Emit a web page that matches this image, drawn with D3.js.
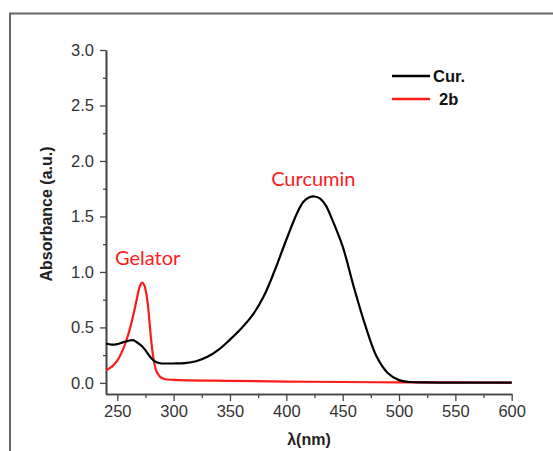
<!DOCTYPE html>
<html>
<head>
<meta charset="utf-8">
<script src="https://cdn.jsdelivr.net/npm/d3@7"></script>
<style>
  body { margin: 0; background: #fff; }
  svg { display: block; }
</style>
</head>
<body>
<div id="chart"></div>
<script>
// absorbance spectra
var curWl     = [240, 245, 250, 255, 260, 264, 268, 272, 276, 280, 284, 288, 295, 300, 310, 320, 330, 340, 350, 360, 370, 380, 390, 400, 410, 415, 420, 425, 430, 435, 440, 450, 460, 470, 480, 490, 500, 510, 520, 550, 600];
var curValues = [0.355, 0.345, 0.35, 0.365, 0.38, 0.385, 0.362, 0.33, 0.28, 0.225, 0.19, 0.177, 0.175, 0.175, 0.178, 0.195, 0.235, 0.3, 0.39, 0.49, 0.61, 0.78, 1.02, 1.29, 1.54, 1.63, 1.67, 1.68, 1.66, 1.6, 1.49, 1.23, 0.86, 0.52, 0.24, 0.09, 0.025, 0.008, 0.004, 0.003, 0.002];
var gelWl     = [240, 245, 250, 255, 258, 261, 264, 267, 270, 272, 274, 277, 279, 281, 283, 285, 288, 292, 300, 350, 400, 450, 500, 550, 600];
var gelValues = [0.115, 0.145, 0.2, 0.3, 0.38, 0.48, 0.6, 0.74, 0.87, 0.905, 0.88, 0.72, 0.5, 0.3, 0.17, 0.1, 0.055, 0.035, 0.027, 0.018, 0.012, 0.008, 0.005, 0.004, 0.003];

var xTicks = [250, 300, 350, 400, 450, 500, 550, 600];
var xMinor = [275, 325, 375, 425, 475, 525, 575];
var yTicks = [0, 0.5, 1.0, 1.5, 2.0, 2.5, 3.0];
var yMinor = [0.25, 0.75, 1.25, 1.75, 2.25, 2.75];

var seriesNames = ["Cur.", "2b"];
var seriesColors = ["#000000", "#ff1a1a"];

var width = 553, height = 451;

var svg = d3.select("#chart").append("svg")
            .attr("width", width)
            .attr("height", height);

// outer frame (only top and left edges visible)
svg.append("path")
   .attr("d", "M10,451 L10,13.5 L553,13.5")
   .attr("fill", "none")
   .attr("stroke", "#666")
   .attr("stroke-width", 2);

var x = d3.scaleLinear().domain([240, 600]).range([106, 511.7]);
var y = d3.scaleLinear().domain([-0.1, 3.0]).range([394, 50]);

var axisColor = "#444";
var tickFont = "Liberation Sans, Arial, sans-serif";

// x axis
var xAxis = svg.append("g")
               .attr("transform", "translate(0,394)")
               .call(d3.axisBottom(x).tickValues(xTicks).tickSize(7).tickPadding(4).tickSizeOuter(0));
var xMinorAxis = svg.append("g")
               .attr("transform", "translate(0,394)")
               .call(d3.axisBottom(x).tickValues(xMinor).tickSize(4).tickFormat("").tickSizeOuter(0));

// y axis
var yAxis = svg.append("g")
               .attr("transform", "translate(106,0)")
               .call(d3.axisLeft(y).tickValues(yTicks).tickSize(6).tickPadding(6).tickSizeOuter(0)
                       .tickFormat(d3.format(".1f")));
var yMinorAxis = svg.append("g")
               .attr("transform", "translate(106,0)")
               .call(d3.axisLeft(y).tickValues(yMinor).tickSize(3).tickFormat("").tickSizeOuter(0));

[xAxis, xMinorAxis, yAxis, yMinorAxis].forEach(function(g){
  g.selectAll("path.domain").attr("stroke", axisColor).attr("stroke-width", 1.6);
  g.selectAll(".tick line").attr("stroke", axisColor).attr("stroke-width", 1.3);
  g.selectAll(".tick text")
   .attr("fill", "#333")
   .style("font-family", tickFont)
   .style("font-size", "16.5px");
});

// axis titles
svg.append("text")
   .attr("x", 309)
   .attr("y", 445)
   .attr("text-anchor", "middle")
   .attr("fill", "#222")
   .style("font-family", tickFont)
   .style("font-size", "16px")
   .style("font-weight", "bold")
   .text("λ(nm)");

svg.append("text")
   .attr("transform", "translate(52,214) rotate(-90)")
   .attr("text-anchor", "middle")
   .attr("fill", "#222")
   .style("font-family", tickFont)
   .style("font-size", "16px")
   .style("font-weight", "bold")
   .text("Absorbance (a.u.)");

// spectra
var line = d3.line()
             .x(function(d) { return x(d[0]); })
             .y(function(d) { return y(d[1]); })
             .curve(d3.curveCatmullRom.alpha(0.5));

var series = [[gelWl, gelValues, seriesColors[1]], [curWl, curValues, seriesColors[0]]];
series.forEach(function(s){
  svg.append("path")
     .datum(s[0].map(function(w, j){ return [w, s[1][j]]; }))
     .attr("fill", "none")
     .attr("stroke", s[2])
     .attr("stroke-width", 2.2)
     .attr("d", line);
});

// legend
var legend = svg.append("g").attr("class", "legend");
seriesNames.forEach(function(name, i){
  var ly = 76 + i * 23;
  legend.append("line")
        .attr("x1", 392).attr("x2", 430)
        .attr("y1", ly).attr("y2", ly)
        .attr("stroke", seriesColors[i])
        .attr("stroke-width", 2.5);
  legend.append("text")
        .attr("x", i == 0 ? 433 : 439)
        .attr("y", ly + 6)
        .attr("fill", "#111")
        .style("font-family", tickFont)
        .style("font-size", "16.5px")
        .style("font-weight", "bold")
        .text(name);
});

// annotations
var notes = [{text: "Curcumin", wl: 424, val: 1.77}, {text: "Gelator", wl: 277, val: 1.06}];
notes.forEach(function(n){
  svg.append("text")
     .attr("x", x(n.wl))
     .attr("y", y(n.val))
     .attr("text-anchor", "middle")
     .attr("fill", "#ff1a1a")
     .style("font-family", "Lato, 'Open Sans', sans-serif")
     .style("font-size", "20px")
     .text(n.text);
});
</script>
</body>
</html>
